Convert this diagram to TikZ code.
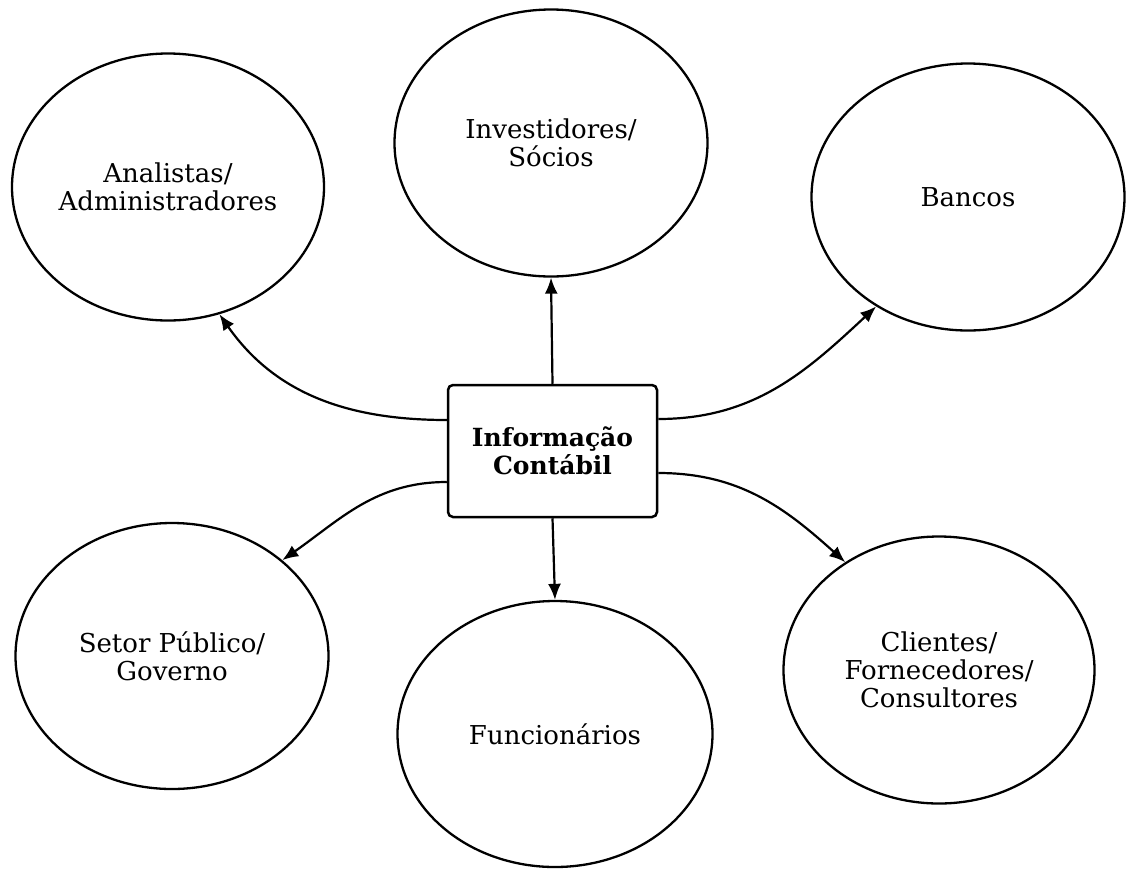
\documentclass[tikz,border=0pt]{standalone}
\usepackage{fontspec}
\setmainfont{DejaVu Serif}
\usetikzlibrary{shapes.geometric,arrows.meta}
\begin{document}
\begin{tikzpicture}[x=1pt,y=-1pt,
  ell/.style={ellipse,draw=black,line width=2.3pt,inner sep=0pt,align=center,
    font=\fontsize{26}{28}\selectfont},
  mainbox/.style={rectangle,draw=black,line width=2.5pt,rounded corners=5pt,
    minimum width=209pt,minimum height=132pt,align=center,
    font=\fontsize{25}{28}\selectfont\bfseries},
  conn/.style={line width=2.2pt,-{Latex[length=16pt,width=13pt]}}]
\useasboundingbox (0,0) rectangle (1127,868);
\node[mainbox] (box) at (552.5,451) {Informação\\Contábil};
\node[ell,minimum width=312pt,minimum height=267pt] (ana) at (168,187) {Analistas/\\Administradores};
\node[ell,minimum width=313pt,minimum height=267pt] (inv) at (551,143) {Investidores/\\Sócios};
\node[ell,minimum width=313pt,minimum height=267pt] (ban) at (968,197) {Bancos};
\node[ell,minimum width=313pt,minimum height=266pt] (set) at (172,656) {Setor Público/\\Governo};
\node[ell,minimum width=315pt,minimum height=266pt] (fun) at (555,734) {Funcionários};
\node[ell,minimum width=311pt,minimum height=267pt] (cli) at (939,670) {Clientes/\\Fornecedores/\\Consultores};
\draw[conn] (box.north) -- (inv.south);
\draw[conn] (box.south) -- (fun.north);
\draw[conn] ([yshift=31pt]box.west) to[out=180,in=-55] (ana.-68);
\draw[conn] ([yshift=32pt]box.east) to[out=0,in=-137] (ban.-130);
\draw[conn] ([yshift=-31pt]box.west) to[out=180,in=35] (set.41);
\draw[conn] ([yshift=-22pt]box.east) to[out=0,in=138] (cli.131);
\end{tikzpicture}
\end{document}
